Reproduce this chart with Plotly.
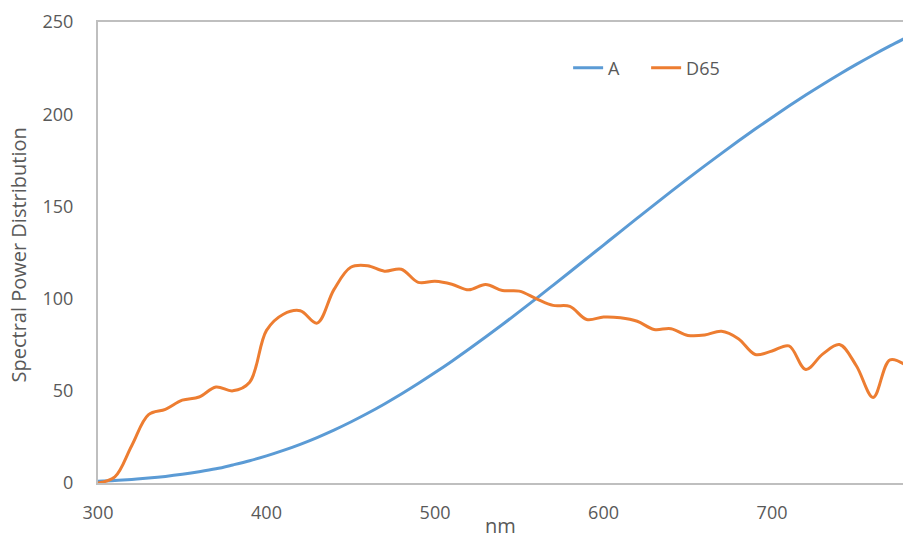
import plotly.graph_objects as go

# Wavelengths (nm), 10 nm steps
wavelength = list(range(300, 790, 10))

# CIE standard illuminant A, relative spectral power
spd_a = [0.93, 1.36, 1.93, 2.66, 3.57, 4.70, 6.06, 7.68, 9.80, 12.09,
         14.71, 17.68, 21.00, 24.67, 28.70, 33.09, 37.81, 42.87, 48.24, 53.91,
         59.86, 66.06, 72.50, 79.13, 85.95, 92.91, 100.00, 107.18, 114.44, 121.73,
         129.04, 136.35, 143.62, 150.84, 157.98, 165.03, 171.96, 178.77, 185.43, 191.93,
         198.26, 204.41, 210.37, 216.12, 221.67, 227.00, 232.12, 237.01, 241.68]

# CIE standard illuminant D65, relative spectral power
spd_d65 = [0.03, 3.29, 20.24, 37.05, 39.95, 44.91, 46.64, 52.09, 49.98, 54.65,
           82.75, 91.49, 93.43, 86.68, 104.87, 117.01, 117.81, 114.86, 115.92, 108.81,
           109.35, 107.80, 104.79, 107.69, 104.41, 104.05, 100.00, 96.33, 95.79, 88.69,
           90.01, 89.60, 87.70, 83.29, 83.70, 80.03, 80.21, 82.28, 78.28, 69.72,
           71.61, 74.35, 61.60, 69.89, 75.09, 63.59, 46.42, 66.81, 63.38]

x_ticks = [300, 400, 500, 600, 700]
y_ticks = [0, 50, 100, 150, 200, 250]

FONT = "Open Sans, Noto Sans, sans-serif"
GREY = "#595959"
AXIS = "#bfbfbf"

fig = go.Figure()
fig.add_trace(go.Scatter(x=wavelength, y=spd_a, name="A", mode="lines",
                         line=dict(color="#5b9bd5", width=3, shape="spline", smoothing=1)))
fig.add_trace(go.Scatter(x=wavelength, y=spd_d65, name="D65", mode="lines",
                         line=dict(color="#ed7d31", width=3, shape="spline", smoothing=1)))

fig.update_layout(
    width=903, height=539,
    margin=dict(l=98, r=0, t=22, b=56),
    paper_bgcolor="white", plot_bgcolor="white",
    font=dict(family=FONT, size=18, color=GREY),
    showlegend=True,
    legend=dict(orientation="h", x=0.584, y=0.9, xanchor="left", yanchor="middle",
                font=dict(size=18, color=GREY), bgcolor="rgba(0,0,0,0)",
                entrywidth=33, entrywidthmode="pixels", tracegroupgap=0),
    xaxis=dict(range=[300, 777.7], tickvals=x_ticks, showgrid=False, zeroline=False,
               showline=True, linecolor=AXIS, linewidth=2, mirror=True,
               ticks="", ticklabelstandoff=12),
    yaxis=dict(range=[0, 250], tickvals=y_ticks, showgrid=False, zeroline=False,
               showline=True, linecolor=AXIS, linewidth=2, ticks="",
               ticklabelstandoff=19),
    annotations=[
        dict(text="nm", xref="paper", yref="paper", x=0.5, y=0,
             xanchor="center", yanchor="bottom", yshift=-58, showarrow=False,
             font=dict(size=20, color=GREY)),
        dict(text="Spectral Power Distribution", xref="paper", yref="paper",
             x=0, y=0.5, xanchor="center", yanchor="middle", xshift=-80, yshift=-3,
             textangle=-90, showarrow=False, font=dict(size=20, color=GREY)),
    ],
)

fig.write_html("out.html")
